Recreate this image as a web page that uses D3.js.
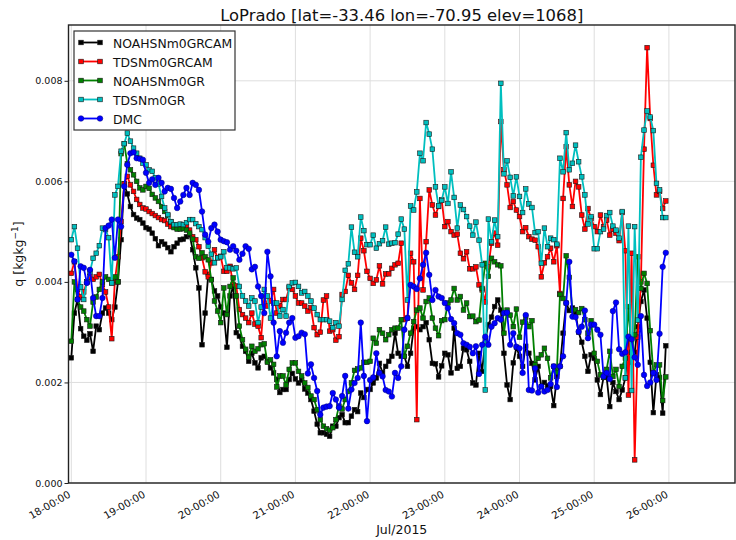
<!DOCTYPE html>
<html>
<head>
<meta charset="utf-8">
<script src="https://cdn.jsdelivr.net/npm/d3@7"></script>
<style>
  body { margin: 0; background: #ffffff; }
  svg { display: block; font-family: "DejaVu Sans", sans-serif; }
</style>
</head>
<body>
<svg id="chart" width="736" height="540"></svg>
<script>
// Specific humidity at LoPrado, hourly from 2015-07-18 00:00 UTC (values in g/kg)
const seriesNames = ["NOAHSNm0GRCAM", "TDSNm0GRCAM", "NOAHSNm0GR", "TDSNm0GR", "DMC"];
const seriesColors = ["#000000", "#ff0000", "#008000", "#00bfbf", "#0000ff"];
const seriesMarkers = ["square", "square", "square", "square", "circle"];

const noahGrCam = [
  2.49, 3.38, 3.65, 3.07, 2.92, 2.84, 2.97, 2.62, 3.12, 3.05, 3.38, 3.48, 3.38, 3.25, 3.5, 4.0, 4.84, 5.95, 5.75, 5.5, 5.34, 5.27, 5.24, 5.17,
  5.08, 5.05, 4.97, 4.86, 4.72, 4.8, 4.75, 4.68, 4.6, 4.7, 4.77, 4.84, 4.85, 4.9, 4.94, 4.64, 4.28, 3.88, 2.75, 3.38, 4.15, 4.05, 3.82, 3.72,
  3.5, 3.38, 2.7, 3.72, 3.91, 2.99, 2.92, 2.72, 2.62, 2.42, 2.58, 2.39, 2.29, 2.49, 2.52, 2.42, 2.29, 2.19, 2.06, 1.8, 1.86, 1.86, 2.06, 2.18,
  2.07, 1.99, 2.05, 1.87, 1.79, 1.66, 1.43, 1.17, 1.0, 1.0, 0.97, 0.93, 1.13, 1.13, 1.3, 1.36, 1.2, 1.2, 1.33, 1.46, 1.42, 1.79, 1.7, 1.86,
  1.86, 1.99, 2.09, 2.38, 2.19, 2.32, 2.42, 2.52, 2.98, 2.58, 2.52, 2.52, 2.32, 2.58, 3.08, 3.11, 3.05, 3.11, 3.19, 2.85, 2.38, 2.37, 2.11, 2.33,
  2.58, 2.55, 2.19, 3.08, 2.28, 2.32, 2.68, 2.65, 2.42, 1.99, 1.95, 2.58, 2.22, 2.85, 3.15, 3.3, 3.51, 3.64, 3.44, 2.58, 1.95, 1.66, 2.39, 2.7,
  2.52, 2.32, 2.72, 2.58, 2.38, 2.05, 2.32, 1.92, 2.0, 1.93, 1.92, 1.54, 2.12, 2.32, 2.98, 3.58, 3.43, 3.48, 3.38, 3.0, 2.8, 2.52, 2.22, 2.55,
  2.48, 2.05, 1.76, 2.1, 2.1, 1.52, 2.0, 1.82, 1.66, 1.85, 2.09, 2.9, 2.4, 2.6, 3.11, 3.61, 3.84, 3.28, 2.4, 1.4, 2.15, 2.1, 1.39, 2.73
];

const tdsGrCam = [
  4.17, 4.4, 3.85, 3.7, 3.8, 4.0, 4.1, 4.05, 4.1, 4.15, 3.95, 3.8, 3.5, 2.87, 4.03, 4.5, 5.2, 5.95, 6.1, 5.93, 5.8, 5.64, 5.54, 5.47,
  5.45, 5.4, 5.36, 5.32, 5.28, 5.24, 5.22, 5.15, 5.1, 5.1, 5.08, 5.1, 5.07, 5.1, 5.03, 4.9, 4.84, 4.7, 4.48, 4.2, 4.1, 4.38, 4.64, 4.48,
  4.51, 4.21, 4.21, 4.31, 3.95, 3.92, 3.45, 3.35, 3.28, 3.19, 3.38, 3.16, 3.12, 2.89, 3.72, 3.52, 3.62, 3.85, 3.38, 3.52, 3.65, 3.65, 3.88, 3.85,
  3.72, 3.58, 3.58, 3.52, 3.42, 3.49, 3.09, 2.95, 3.0, 3.64, 3.72, 3.02, 3.05, 2.84, 2.91, 3.75, 3.81, 4.13, 3.98, 3.85, 4.13, 4.87, 4.62, 4.21,
  4.07, 3.97, 4.04, 4.32, 3.96, 4.16, 4.16, 4.27, 4.34, 4.37, 4.77, 3.25, 3.28, 4.57, 4.4, 1.26, 5.66, 3.84, 4.8, 5.83, 5.53, 5.33, 5.5, 5.63,
  5.1, 5.2, 5.0, 4.93, 4.95, 4.57, 4.46, 4.6, 4.26, 4.26, 4.3, 3.94, 3.84, 3.6, 4.3, 4.77, 4.97, 4.73, 7.19, 6.23, 5.93, 5.48, 5.6, 5.43,
  5.3, 5.0, 5.08, 4.9, 4.85, 4.83, 4.7, 4.1, 4.38, 4.5, 4.67, 4.4, 4.72, 3.77, 5.66, 6.69, 5.93, 5.5, 6.0, 5.89, 5.33, 5.05, 5.46, 5.26,
  5.1, 5.0, 5.33, 5.1, 5.23, 4.93, 5.05, 4.97, 4.82, 5.38, 4.62, 1.75, 4.57, 0.46, 2.9, 4.0, 6.64, 8.66, 7.25, 6.32, 5.73, 5.8, 5.46, 5.61
];

const noahGr = [
  2.82, 4.0, 3.65, 3.5, 3.42, 3.25, 3.12, 3.6, 3.7, 3.85, 4.0, 4.1, 4.05, 3.98, 4.1, 4.0, 6.55, 6.75, 6.35, 6.23, 6.13, 6.0, 5.87, 5.83,
  5.9, 5.86, 5.74, 5.67, 5.6, 5.5, 5.4, 5.32, 5.2, 5.08, 5.05, 5.05, 5.06, 5.03, 4.97, 4.85, 4.5, 4.47, 4.58, 4.5, 4.44, 4.04, 3.62, 3.42,
  3.19, 3.88, 3.35, 3.91, 4.08, 3.72, 3.12, 2.85, 2.66, 2.5, 2.72, 2.62, 2.67, 2.75, 2.77, 2.4, 2.45, 2.36, 1.91, 2.13, 2.13, 1.95, 2.26, 2.39,
  2.39, 2.22, 2.13, 1.99, 1.9, 1.73, 1.66, 1.46, 1.26, 1.13, 1.08, 1.05, 1.1, 1.26, 1.53, 1.47, 1.66, 1.82, 1.99, 2.24, 2.27, 2.29, 2.4, 2.4,
  2.42, 2.88, 2.78, 3.05, 2.98, 2.85, 2.95, 3.05, 3.08, 3.08, 3.25, 2.52, 2.72, 2.98, 3.21, 3.44, 3.48, 3.28, 3.61, 3.68, 3.28, 3.08, 2.93, 3.23,
  3.25, 3.58, 3.64, 3.87, 3.64, 3.71, 3.44, 3.58, 3.31, 3.32, 3.21, 3.24, 3.87, 4.37, 4.11, 4.47, 4.4, 4.34, 4.32, 2.98, 3.44, 3.34, 3.11, 3.46,
  2.9, 3.2, 3.3, 3.11, 3.23, 2.35, 2.48, 2.55, 2.68, 2.48, 2.09, 2.32, 2.2, 3.75, 3.67, 4.52, 4.09, 3.44, 3.45, 3.39, 3.47, 3.25, 2.98, 3.23,
  2.58, 2.42, 2.15, 2.1, 2.26, 2.62, 2.12, 2.26, 1.92, 2.32, 2.48, 3.51, 2.6, 2.95, 4.5, 3.87, 4.17, 3.97, 3.03, 2.19, 2.35, 2.35, 1.64, 2.11
];

const tdsGr = [
  4.84, 5.1, 4.67, 3.9, 3.65, 4.0, 4.2, 4.47, 4.57, 4.72, 5.07, 5.04, 4.88, 3.98, 5.73, 5.9, 6.6, 6.75, 6.96, 6.8, 6.66, 6.56, 6.46, 6.36,
  6.33, 6.23, 6.2, 6.07, 5.95, 5.7, 5.47, 5.34, 5.2, 5.14, 5.14, 5.15, 5.14, 5.18, 5.24, 5.24, 5.16, 5.1, 5.04, 4.88, 4.71, 4.55, 4.38, 4.48,
  4.5, 4.6, 4.28, 4.28, 4.26, 4.28, 3.91, 3.72, 3.62, 3.52, 3.68, 3.62, 3.19, 3.5, 3.85, 3.72, 3.28, 3.58, 3.58, 3.32, 3.45, 3.32, 3.91, 3.98,
  3.99, 3.91, 3.78, 3.81, 3.72, 3.62, 3.48, 3.35, 3.25, 3.25, 3.25, 3.22, 3.09, 3.19, 3.12, 3.65, 4.23, 4.36, 5.09, 4.59, 4.5, 5.29, 5.02, 4.74,
  4.74, 4.93, 4.67, 4.76, 4.82, 5.09, 4.75, 4.77, 4.78, 4.95, 5.25, 5.05, 3.64, 5.51, 5.43, 5.79, 6.56, 6.41, 7.17, 6.94, 6.64, 5.89, 5.51, 5.62,
  5.89, 5.56, 6.19, 5.68, 5.07, 5.53, 5.44, 5.3, 5.11, 4.93, 5.19, 4.83, 4.34, 1.85, 5.25, 4.8, 5.23, 4.9, 7.95, 6.15, 6.41, 6.08, 5.71, 6.09,
  5.7, 5.38, 5.85, 5.55, 5.48, 4.98, 5.0, 4.37, 5.07, 4.7, 4.87, 4.84, 4.75, 6.46, 6.19, 6.97, 6.23, 6.36, 6.72, 6.39, 6.09, 5.73, 5.15, 5.3,
  4.66, 4.66, 5.0, 5.05, 5.32, 5.38, 5.11, 5.03, 4.87, 5.4, 2.09, 5.11, 1.84, 5.1, 3.24, 6.48, 7.02, 7.4, 7.28, 7.01, 5.96, 5.83, 5.28, 5.28
];

const dmc = [
  4.54, 4.41, 3.65, 4.31, 4.28, 3.98, 4.24, 3.68, 3.32, 3.32, 3.68, 5.07, 5.12, 5.24, 4.48, 5.24, 5.1, 5.9, 6.33, 6.56, 6.58, 6.46, 6.45, 6.43,
  6.17, 5.97, 6.04, 5.93, 6.07, 5.97, 5.8, 5.87, 5.85, 5.67, 5.47, 5.6, 5.73, 5.87, 5.73, 5.97, 5.93, 5.83, 5.4, 4.94, 4.8, 5.07, 5.14, 5.0,
  4.84, 4.81, 4.79, 4.64, 4.71, 4.62, 4.44, 4.56, 4.71, 4.66, 4.25, 4.3, 3.91, 3.72, 3.38, 4.6, 4.11, 3.19, 2.52, 3.02, 2.79, 2.99, 3.19, 3.28,
  2.89, 2.92, 2.99, 2.96, 2.18, 2.36, 2.09, 1.83, 1.36, 1.5, 1.52, 1.53, 1.79, 1.66, 1.5, 1.73, 2.13, 1.48, 1.86, 1.99, 2.09, 3.19, 2.13, 1.23,
  2.05, 2.1, 2.58, 2.19, 2.12, 1.85, 1.82, 1.72, 2.19, 2.09, 2.32, 3.05, 3.28, 3.94, 3.91, 3.86, 4.07, 4.34, 4.58, 4.14, 3.64, 3.84, 3.71, 3.68,
  3.58, 3.48, 3.26, 3.18, 2.98, 2.95, 2.78, 2.75, 2.71, 2.58, 2.72, 2.17, 2.75, 2.91, 2.75, 3.11, 3.18, 3.28, 3.25, 3.38, 3.39, 2.75, 2.98, 2.71,
  2.68, 2.19, 3.34, 1.85, 1.84, 2.28, 1.8, 1.92, 1.82, 1.85, 1.97, 2.32, 1.91, 2.32, 2.52, 3.58, 4.4, 3.31, 3.3, 3.01, 3.11, 3.43, 2.88, 3.15,
  3.15, 3.05, 2.95, 2.12, 2.19, 2.07, 3.42, 3.59, 2.66, 2.57, 2.6, 2.91, 2.86, 2.5, 2.35, 3.32, 2.15, 1.93, 2.0, 2.19, 2.05, 2.97, 4.3, 4.58
];

const yTicks = [0, 0.002, 0.004, 0.006, 0.008];
const dayTicks = d3.utcDay.range(new Date(Date.UTC(2015, 6, 18)), new Date(Date.UTC(2015, 6, 26, 1)));
const titleText = "LoPrado [lat=-33.46 lon=-70.95 elev=1068]";
const xLabelText = "Jul/2015";

const G_PER_KG = 1e-3;  // stored values are g/kg, axis is kg/kg
const times = d3.utcHour.range(new Date(Date.UTC(2015, 6, 18, 0)), new Date(Date.UTC(2015, 6, 26, 0)));
const seriesValues = [noahGrCam, tdsGrCam, noahGr, tdsGr, dmc];

const plot = { left: 68.5, right: 735, top: 25, bottom: 483 };

const svg = d3.select("#chart");
svg.append("rect").attr("width", 736).attr("height", 540).attr("fill", "#ffffff");

const x = d3.scaleUtc()
  .domain([new Date(Date.UTC(2015, 6, 17, 23, 6)), new Date(Date.UTC(2015, 6, 26, 21, 14))])
  .range([plot.left, plot.right]);
const y = d3.scaleLinear().domain([0, 0.00911]).range([plot.bottom, plot.top]);

// grid
const grid = svg.append("g").attr("stroke", "#dedede").attr("stroke-width", 1);
grid.selectAll("line.gx").data(dayTicks).join("line")
  .attr("x1", d => x(d)).attr("x2", d => x(d))
  .attr("y1", plot.top).attr("y2", plot.bottom);
grid.selectAll("line.gy").data(yTicks).join("line")
  .attr("x1", plot.left).attr("x2", plot.right)
  .attr("y1", d => y(d)).attr("y2", d => y(d));

// axes
const fmtDay = d3.utcFormat("%d-%H:%M");
const xAxis = svg.append("g").attr("transform", `translate(0,${plot.bottom})`)
  .call(d3.axisBottom(x).tickValues(dayTicks).tickFormat(fmtDay).tickSize(0).tickSizeOuter(0));
xAxis.select(".domain").remove();
xAxis.selectAll(".tick line").remove();
xAxis.selectAll(".tick text")
  .attr("font-family", "DejaVu Sans, sans-serif")
  .attr("font-size", 10.2).attr("fill", "#111")
  .attr("text-anchor", "end")
  .attr("dy", null).attr("y", null)
  .attr("transform", "translate(-0.5,13.5) rotate(-30)");

const yAxis = svg.append("g").attr("transform", `translate(${plot.left},0)`)
  .call(d3.axisLeft(y).tickValues(yTicks).tickFormat(d3.format(".3f")).tickSize(4).tickSizeOuter(0));
yAxis.select(".domain").remove();
yAxis.selectAll(".tick line").attr("stroke", "#222");
yAxis.selectAll(".tick text")
  .attr("font-family", "DejaVu Sans, sans-serif")
  .attr("font-size", 9.5).attr("fill", "#111").attr("x", -6);

// series
const clipId = "plotClip";
svg.append("clipPath").attr("id", clipId).append("rect")
  .attr("x", plot.left).attr("y", plot.top)
  .attr("width", plot.right - plot.left).attr("height", plot.bottom - plot.top);

const line = d3.line().x(d => x(d.t)).y(d => y(d.v));
const markerSize = 4.6;

function drawMarker(sel, kind, color) {
  if (kind === "circle") {
    sel.append("circle").attr("r", 2.8).attr("fill", color)
      .attr("stroke", "#00007a").attr("stroke-width", 0.5);
  } else {
    sel.append("rect")
      .attr("x", -markerSize / 2).attr("y", -markerSize / 2)
      .attr("width", markerSize).attr("height", markerSize)
      .attr("fill", color).attr("stroke", "#1a1a1a").attr("stroke-width", 0.6);
  }
}

const dataLayer = svg.append("g").attr("clip-path", `url(#${clipId})`);
seriesValues.forEach((vals, i) => {
  const pts = vals.map((v, k) => ({ t: times[k], v: v * G_PER_KG }));
  const g = dataLayer.append("g");
  g.append("path").datum(pts).attr("d", line)
    .attr("fill", "none").attr("stroke", seriesColors[i])
    .attr("stroke-width", 1.8).attr("stroke-linejoin", "round");
  const m = g.selectAll("g.m").data(pts).join("g")
    .attr("transform", d => `translate(${x(d.t)},${y(d.v)})`);
  drawMarker(m, seriesMarkers[i], seriesColors[i]);
});

// frame
svg.append("rect")
  .attr("x", plot.left).attr("y", plot.top)
  .attr("width", plot.right - plot.left).attr("height", plot.bottom - plot.top)
  .attr("fill", "none").attr("stroke", "#222").attr("stroke-width", 1.4);

// legend
const legend = svg.append("g").attr("transform", "translate(74,31)");
legend.append("rect").attr("width", 161).attr("height", 99)
  .attr("fill", "#ffffff").attr("stroke", "#333").attr("stroke-width", 1.2);
seriesNames.forEach((name, i) => {
  const row = legend.append("g").attr("transform", `translate(0,${11.5 + i * 19})`);
  row.append("line").attr("x1", 7).attr("x2", 26).attr("y1", 0).attr("y2", 0)
    .attr("stroke", seriesColors[i]).attr("stroke-width", 1.8);
  [7, 26].forEach(px => {
    const mk = row.append("g").attr("transform", `translate(${px},0)`);
    drawMarker(mk, seriesMarkers[i], seriesColors[i]);
  });
  row.append("text").attr("x", 39).attr("y", 5)
    .attr("font-size", 12.4).attr("fill", "#111").text(name);
});

// titles
svg.append("text").attr("x", (plot.left + plot.right) / 2).attr("y", 20.5)
  .attr("text-anchor", "middle").attr("font-size", 16.4).attr("fill", "#111")
  .text(titleText);
svg.append("text").attr("x", (plot.left + plot.right) / 2).attr("y", 534)
  .attr("text-anchor", "middle").attr("font-size", 12.5).attr("fill", "#111")
  .text(xLabelText);
const yl = svg.append("text")
  .attr("transform", `translate(23,${(plot.top + plot.bottom) / 2}) rotate(-90)`)
  .attr("text-anchor", "middle").attr("font-size", 12.5).attr("fill", "#111");
yl.append("tspan").text("q [kgkg");
yl.append("tspan").attr("font-size", 9).attr("baseline-shift", "super").text("\u22121");
yl.append("tspan").text("]");
</script>
</body>
</html>
